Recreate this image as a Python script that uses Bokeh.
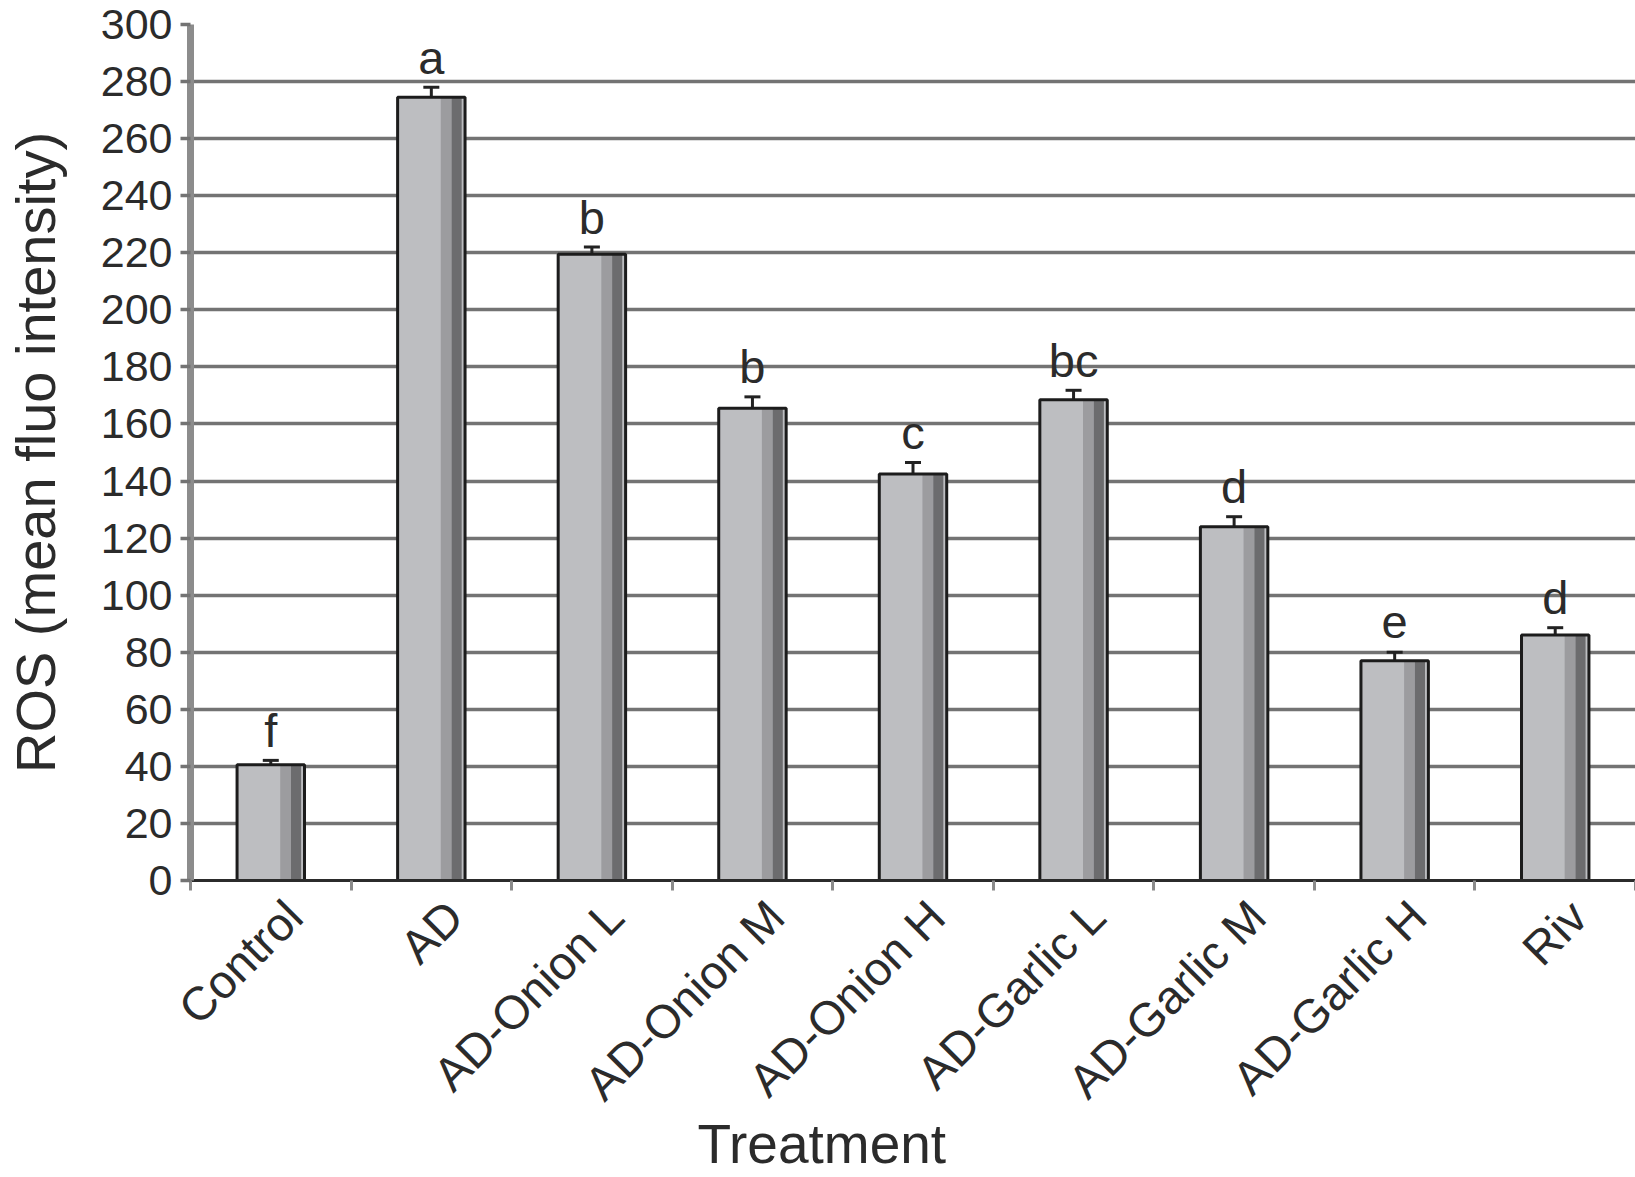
import math
from bokeh.plotting import figure
from bokeh.models import ColumnDataSource, FixedTicker, Whisker, TeeHead, Title, Range1d
from bokeh.core.properties import value
from bokeh.embed import file_html
from bokeh.resources import INLINE

# ---- data ----
categories = ["Control", "AD", "AD-Onion L", "AD-Onion M", "AD-Onion H",
              "AD-Garlic L", "AD-Garlic M", "AD-Garlic H", "Riv"]
ros_mean = [40.6, 274.5, 219.5, 165.5, 142.5, 168.5, 124.0, 77.0, 86.0]
ros_err = [1.5, 3.5, 2.5, 4.0, 4.0, 3.3, 3.5, 3.0, 2.6]
letters = ["f", "a", "b", "b", "c", "bc", "d", "e", "d"]
y_ticks = list(range(0, 301, 20))

FONT = "Liberation Sans"
TEXT = "#2b2b2b"

n = len(categories)
xc = [i + 0.5 for i in range(n)]
label_shift = 0.145
bw = 0.42
src = ColumnDataSource(dict(
    x=xc,
    top=ros_mean,
    upper=[m + e for m, e in zip(ros_mean, ros_err)],
    lower=[m - e for m, e in zip(ros_mean, ros_err)],
    letter=letters,
    ly=[m + e + 10.5 for m, e in zip(ros_mean, ros_err)],
    x_mid=[c + bw * 0.22 for c in xc],
    x_dark=[c + bw * 0.375 for c in xc],
))

p = figure(width=1635, height=1177, x_range=Range1d(0, n), y_range=Range1d(0, 300),
           output_backend="svg", toolbar_location=None,
           min_border_left=188, min_border_right=0, min_border_top=24, min_border_bottom=297)
p.outline_line_color = None
p.background_fill_color = "white"
p.border_fill_color = "white"

# bars
p.vbar(x="x", top="top", bottom=0, width=bw, source=src, fill_color="#bdbec1", line_color=None)
p.vbar(x="x_mid", top="top", bottom=0, width=bw * 0.16, source=src, fill_color="#9c9c9f", line_color=None)
p.vbar(x="x_dark", top="top", bottom=0, width=bw * 0.15, source=src, fill_color="#6c6c6e", line_color=None)
p.vbar(x="x", top="top", bottom=0, width=bw, source=src, fill_alpha=0, line_color="#1c1c1c", line_width=3)

# error bars
p.add_layout(Whisker(source=src, base="x", upper="upper", lower="lower",
                     line_color="#222222", line_width=3,
                     upper_head=TeeHead(size=16, line_color="#222222", line_width=3),
                     lower_head=TeeHead(size=16, line_color="#222222", line_width=3)))

# significance letters
p.text(x="x", y="ly", text="letter", source=src, text_align="center", text_baseline="alphabetic",
       text_font=value(FONT), text_font_size="47px", text_color=TEXT)

# x axis
xa = p.xaxis[0]
lx = [c + label_shift for c in xc]
xa.ticker = FixedTicker(ticks=lx, minor_ticks=list(range(n + 1)))
xa.major_label_overrides = {x: c for x, c in zip(lx, categories)}
xa.major_tick_line_color = None
xa.major_tick_out = 0
xa.minor_tick_out = 10
xa.minor_tick_in = 0
xa.minor_tick_line_color = "#8a8a8a"
xa.minor_tick_line_width = 3
xa.axis_line_color = "#2b2b2b"
xa.axis_line_width = 3
xa.major_label_orientation = math.pi / 4
xa.major_label_text_font = FONT
xa.major_label_text_font_size = "47px"
xa.major_label_text_line_height = 1.0
xa.major_label_text_color = TEXT
xa.major_label_standoff = 18

# y axis
ya = p.yaxis[0]
ya.ticker = FixedTicker(ticks=y_ticks)
ya.axis_line_color = "#8c8c8c"
ya.axis_line_width = 7
ya.major_tick_out = 10
ya.major_tick_in = 0
ya.major_tick_line_color = "#737373"
ya.major_tick_line_width = 3.5
ya.minor_tick_line_color = None
ya.major_label_text_font = FONT
ya.major_label_text_font_size = "43px"
ya.major_label_text_color = TEXT
ya.major_label_standoff = 8
ya.axis_label = "ROS (mean fluo intensity)"
ya.axis_label_text_font = FONT
ya.axis_label_text_font_size = "56px"
ya.axis_label_text_font_style = "normal"
ya.axis_label_text_color = TEXT
ya.axis_label_standoff = 31

p.xgrid.grid_line_color = None
p.ygrid.ticker = FixedTicker(ticks=y_ticks)
p.ygrid.grid_line_color = "#737373"
p.ygrid.grid_line_width = 3.5

# x axis title
p.add_layout(Title(text="Treatment", align="left", offset=507, standoff=-40,
                   vertical_align="middle", text_font=FONT, text_font_size="55px",
                   text_font_style="normal", text_color=TEXT), "below")

open("out.html", "w").write(file_html(p, INLINE))
